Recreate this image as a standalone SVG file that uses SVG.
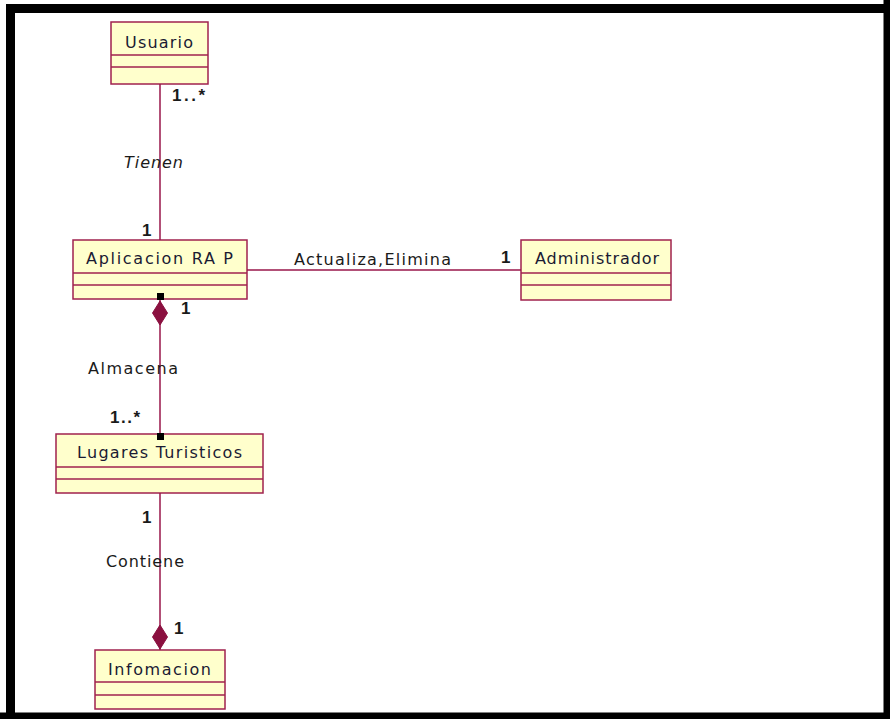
<svg xmlns="http://www.w3.org/2000/svg" width="890" height="719" viewBox="0 0 890 719">
<style>
.box{fill:#ffffcc;stroke:#a0224e;stroke-width:1.5}
.div{stroke:#a0224e;stroke-width:1.5}
.name{font-family:"DejaVu Sans","Liberation Sans",Arial,sans-serif;font-size:16px;fill:#1a1a33}
.lbl{font-family:"DejaVu Sans","Liberation Sans",Arial,sans-serif;font-size:16px;fill:#1a1a1a}
.mult{font-family:"Liberation Sans",Arial,sans-serif;font-size:17px;font-weight:bold;fill:#1a1a1a}
.con{stroke:#99164a;stroke-width:1.5;fill:none}
.dia{fill:#8b1040;stroke:#8b1040}
</style>
<rect x="0" y="0" width="890" height="719" fill="#fff"/>
<path d="M10.5 719 V8.5 H890 M0 717 H890 M888 0 V719" fill="none" stroke="#000" stroke-width="9"/>
<g id="usuario">
<rect class="box" x="111" y="22" width="97" height="62"/>
<line class="div" x1="111" y1="55" x2="208" y2="55"/>
<line class="div" x1="111" y1="67" x2="208" y2="67"/>
<text class="name" x="125" y="48" textLength="68" lengthAdjust="spacing">Usuario</text>
</g>
<g id="aplicacion">
<rect class="box" x="73" y="240" width="174" height="59"/>
<line class="div" x1="73" y1="273" x2="247" y2="273"/>
<line class="div" x1="73" y1="285" x2="247" y2="285"/>
<text class="name" x="86" y="264" textLength="147" lengthAdjust="spacing">Aplicacion RA P</text>
</g>
<g id="administrador">
<rect class="box" x="521" y="240" width="150" height="60"/>
<line class="div" x1="521" y1="273" x2="671" y2="273"/>
<line class="div" x1="521" y1="285" x2="671" y2="285"/>
<text class="name" x="535" y="264" textLength="124" lengthAdjust="spacing">Administrador</text>
</g>
<g id="lugares">
<rect class="box" x="56" y="434" width="207" height="59"/>
<line class="div" x1="56" y1="467" x2="263" y2="467"/>
<line class="div" x1="56" y1="479" x2="263" y2="479"/>
<text class="name" x="77" y="458" textLength="165" lengthAdjust="spacing">Lugares Turisticos</text>
</g>
<g id="infomacion">
<rect class="box" x="95" y="650" width="130" height="59"/>
<line class="div" x1="95" y1="682" x2="225" y2="682"/>
<line class="div" x1="95" y1="695" x2="225" y2="695"/>
<text class="name" x="108" y="675" textLength="103" lengthAdjust="spacing">Infomacion</text>
</g>
<g id="connectors">
<line class="con" x1="160" y1="84" x2="160" y2="240"/>
<line class="con" x1="247" y1="270" x2="521" y2="270"/>
<line class="con" x1="160" y1="299" x2="160" y2="434"/>
<polygon class="dia" points="160,301 167.5,313 160,325 152.5,313"/>
<rect x="157" y="293" width="7" height="7" fill="#000"/>
<rect x="157" y="433" width="7" height="7" fill="#000"/>
<line class="con" x1="160" y1="493" x2="160" y2="650"/>
<polygon class="dia" points="160,625 167.5,637 160,649 152.5,637"/>
<text class="mult" x="172" y="101" textLength="33" lengthAdjust="spacing">1..*</text>
<text class="lbl" x="124" y="168" font-style="italic" textLength="59" lengthAdjust="spacing">Tienen</text>
<text class="mult" x="142" y="236">1</text>
<text class="lbl" x="294" y="265" textLength="157" lengthAdjust="spacing">Actualiza,Elimina</text>
<text class="mult" x="501" y="263">1</text>
<text class="mult" x="181" y="314">1</text>
<text class="lbl" x="88" y="374" textLength="90" lengthAdjust="spacing">Almacena</text>
<text class="mult" x="110" y="423" textLength="30" lengthAdjust="spacing">1..*</text>
<text class="mult" x="142" y="523">1</text>
<text class="lbl" x="106" y="567" textLength="78" lengthAdjust="spacing">Contiene</text>
<text class="mult" x="174" y="634">1</text>
</g>
</svg>
